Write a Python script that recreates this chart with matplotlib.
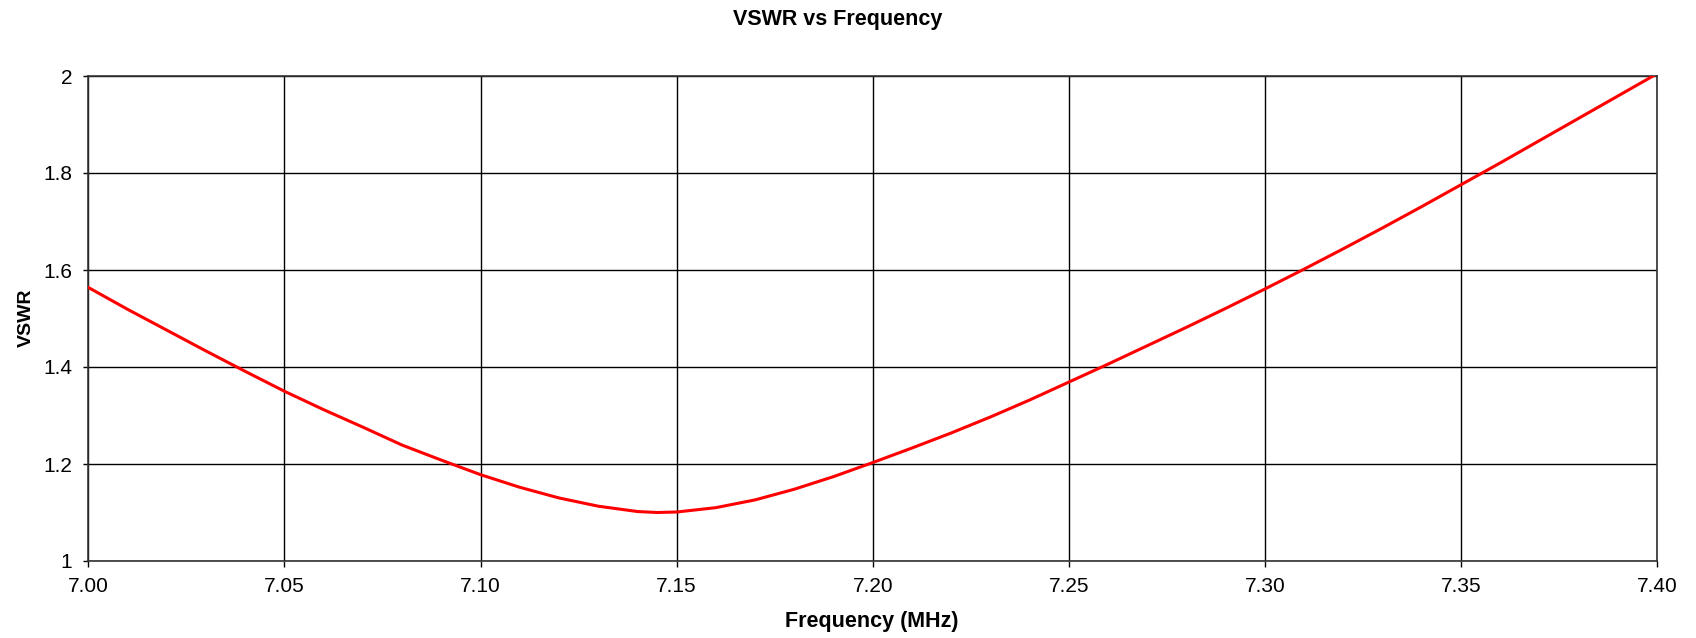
"""
VSWR sweep of the 40 m antenna across the band.
"""

# Imports
import matplotlib
matplotlib.use('Agg')
import matplotlib.pyplot as plt

plt.rcParams['font.family'] = ['Liberation Sans', 'DejaVu Sans']

# Measured sweep
freq_mhz = [7.00, 7.01, 7.02, 7.03, 7.04, 7.05, 7.06, 7.07, 7.08, 7.09,
            7.10, 7.11, 7.12, 7.13, 7.14, 7.145, 7.15, 7.16, 7.17, 7.18,
            7.19, 7.20, 7.21, 7.22, 7.23, 7.24, 7.25, 7.26, 7.27, 7.28,
            7.29, 7.30, 7.31, 7.32, 7.33, 7.34, 7.35, 7.36, 7.37, 7.38,
            7.39, 7.40]
vswr = [1.564, 1.519, 1.476, 1.433, 1.391, 1.350, 1.312, 1.276, 1.239, 1.208,
        1.178, 1.152, 1.130, 1.113, 1.102, 1.100, 1.101, 1.110, 1.126, 1.148,
        1.174, 1.203, 1.233, 1.264, 1.297, 1.332, 1.369, 1.406, 1.444, 1.482,
        1.521, 1.561, 1.602, 1.644, 1.687, 1.731, 1.776, 1.821, 1.867, 1.913,
        1.959, 2.005]

x_ticks = [7.00, 7.05, 7.10, 7.15, 7.20, 7.25, 7.30, 7.35, 7.40]
x_tick_labels = ['7.00', '7.05', '7.10', '7.15', '7.20', '7.25', '7.30', '7.35', '7.40']
y_ticks = [1.0, 1.2, 1.4, 1.6, 1.8, 2.0]
y_tick_labels = ['1', '1.2', '1.4', '1.6', '1.8', '2']

W, H = 1696, 638
fig = plt.figure(figsize=(W / 100, H / 100), dpi=100)
ax = fig.add_axes([88.3 / W, 1 - 561 / H, (1657.3 - 88.3) / W, (561 - 76) / H])

ax.plot(freq_mhz, vswr, color='#ff0000', linewidth=2.2, zorder=3)

ax.set_xlim(7.0, 7.4)
ax.set_ylim(1.0, 2.0)
ax.set_xticks(x_ticks)
ax.set_xticklabels(x_tick_labels)
ax.set_yticks(y_ticks)
ax.set_yticklabels(y_tick_labels)
ax.tick_params(axis='x', length=4.5, width=1, pad=7, labelsize=15)
ax.tick_params(axis='y', length=3.6, width=1, pad=8, labelsize=15)

ax.grid(True, color='black', linewidth=1)
ax.set_axisbelow(True)
for spine in ax.spines.values():
    spine.set_color('#333333')
    spine.set_linewidth(1.2)

# Titles
fig.text(838 / W, 1 - 19 / H, 'VSWR vs Frequency', ha='center', va='center',
         fontsize=15.5, fontweight='bold')
fig.text(872 / W, 1 - 621 / H, 'Frequency (MHz)', ha='center', va='center',
         fontsize=15.5, fontweight='bold')
fig.text(26 / W, 1 - 318 / H, 'VSWR', ha='center', va='center', rotation=90,
         fontsize=14, fontweight='bold')

fig.savefig('out.png', dpi=100, facecolor='white')
